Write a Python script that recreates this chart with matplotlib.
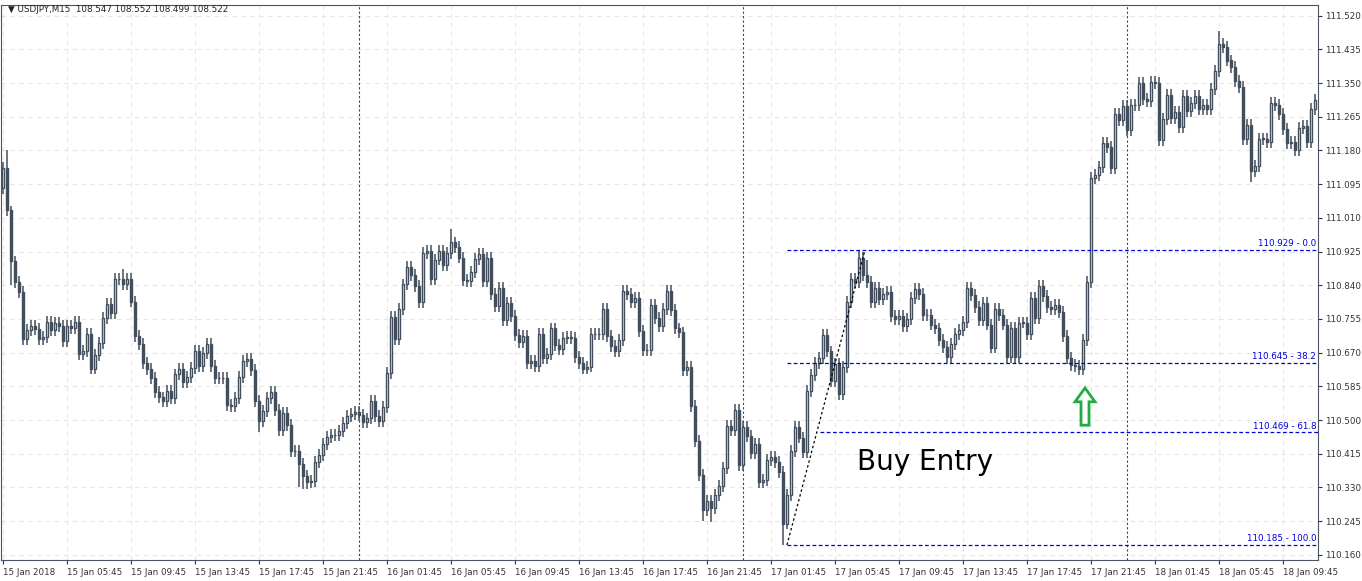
import matplotlib
matplotlib.use("Agg")
import matplotlib.pyplot as plt
from matplotlib.patches import Polygon

closes = [
111.137,111.031,110.900,110.849,110.823,110.705,110.727,110.738,110.730,110.704,
110.710,110.748,110.727,110.744,110.737,110.700,110.737,110.731,110.748,110.667,
110.674,110.718,110.630,110.663,110.695,110.757,110.793,110.769,110.856,110.856,
110.843,110.856,110.799,110.712,110.691,110.643,110.629,110.605,110.570,110.557,
110.547,110.574,110.556,110.615,110.629,110.597,110.608,110.632,110.674,110.637,
110.669,110.693,110.637,110.605,110.605,110.605,110.538,110.535,110.555,110.609,
110.650,110.653,110.627,110.549,110.498,110.523,110.555,110.570,110.525,110.476,
110.519,110.487,110.421,110.421,110.389,110.359,110.344,110.347,110.395,110.411,
110.439,110.457,110.462,110.462,110.472,110.493,110.510,110.516,110.520,110.513,
110.496,110.504,110.547,110.511,110.498,110.534,110.618,110.759,110.704,110.781,
110.842,110.887,110.865,110.838,110.798,110.922,110.927,110.855,110.905,110.927,
110.891,110.921,110.948,110.937,110.910,110.854,110.851,110.874,110.907,110.918,
110.851,110.910,110.819,110.788,110.833,110.753,110.795,110.763,110.715,110.696,
110.711,110.644,110.650,110.637,110.718,110.657,110.667,110.731,110.689,110.679,
110.706,110.709,110.708,110.660,110.644,110.630,110.635,110.716,110.716,110.718,
110.780,110.712,110.687,110.675,110.701,110.825,110.817,110.797,110.807,110.725,
110.677,110.677,110.791,110.758,110.738,110.781,110.825,110.778,110.731,110.721,
110.627,110.633,110.536,110.448,110.362,110.274,110.295,110.277,110.311,110.334,
110.378,110.484,110.475,110.525,110.387,110.483,110.460,110.418,110.439,110.344,
110.348,110.399,110.406,110.395,110.369,110.239,110.310,110.423,110.483,110.456,
110.419,110.573,110.614,110.643,110.657,110.714,110.673,110.598,110.641,110.566,
110.633,110.797,110.856,110.849,110.910,110.866,110.848,110.797,110.834,110.806,
110.819,110.823,110.763,110.756,110.763,110.738,110.756,110.808,110.831,110.818,
110.764,110.764,110.741,110.731,110.702,110.685,110.658,110.691,110.716,110.727,
110.748,110.833,110.816,110.785,110.752,110.796,110.741,110.683,110.781,110.766,
110.741,110.660,110.733,110.660,110.746,110.746,110.716,110.808,110.757,110.838,
110.813,110.785,110.779,110.791,110.773,110.713,110.656,110.639,110.637,110.629,
110.702,110.849,111.110,111.118,111.138,111.199,111.188,111.135,111.271,111.257,
111.292,111.232,111.294,111.294,111.350,111.310,111.304,111.354,111.350,111.207,
111.260,111.320,111.263,111.277,111.240,111.318,111.279,111.299,111.318,111.284,
111.295,111.285,111.334,111.381,111.449,111.441,111.407,111.390,111.355,111.340,
111.209,111.244,111.129,111.142,111.210,111.210,111.202,111.299,111.294,111.271,
111.235,111.198,111.202,111.182,111.237,111.242,111.202,111.285,111.307]
first_open = 111.086
wick = 0.015
special_high = {1: 111.182, 2: 111.040, 112: 110.983, 214: 110.929, 304: 111.482, 30: 110.880, 216: 110.905}
special_low = {74: 110.330, 75: 110.326, 76: 110.326, 175: 110.245, 177: 110.243, 195: 110.185, 312: 111.100, 2: 110.840, 64: 110.470}

xlabels = ["15 Jan 2018", "15 Jan 05:45", "15 Jan 09:45", "15 Jan 13:45", "15 Jan 17:45", "15 Jan 21:45",
           "16 Jan 01:45", "16 Jan 05:45", "16 Jan 09:45", "16 Jan 13:45", "16 Jan 17:45", "16 Jan 21:45",
           "17 Jan 01:45", "17 Jan 05:45", "17 Jan 09:45", "17 Jan 13:45", "17 Jan 17:45", "17 Jan 21:45",
           "18 Jan 01:45", "18 Jan 05:45", "18 Jan 09:45"]
yticks = [110.160, 110.245, 110.330, 110.415, 110.500, 110.585, 110.670, 110.755, 110.840,
          110.925, 111.010, 111.095, 111.180, 111.265, 111.350, 111.435, 111.520]
day_breaks = [89, 185, 281]
fib_levels = [110.929, 110.645, 110.469, 110.185]
fib_names = ["0.0", "38.2", "61.8", "100.0"]

CAND = "#434e5c"
fig = plt.figure(figsize=(13.62, 5.81), dpi=100)
ax = fig.add_axes([1/1362, 21/581, 1317/1362, 555/581])
ax.set_xlim(-0.5, 328.75)
ax.set_ylim(110.147, 111.547)

opens = [first_open] + closes[:-1]
for i, (o, c) in enumerate(zip(opens, closes)):
    hi = special_high.get(i, max(o, c) + wick)
    lo = special_low.get(i, min(o, c) - wick)
    ax.vlines(i, lo, hi, color=CAND, lw=1.1, zorder=3)
    bull = c >= o
    h = abs(c - o) or 0.0008
    ax.bar(i, h, bottom=min(o, c), width=0.7, facecolor="white" if bull else CAND,
           edgecolor=CAND, linewidth=1.0, zorder=4)

ax.set_yticks(yticks)
ax.set_yticklabels([f"{v:.3f}" for v in yticks])
ax.yaxis.tick_right()
ax.set_xticks([16 * k for k in range(len(xlabels))])
ax.set_xticklabels(xlabels, ha="left")
ax.tick_params(axis="both", labelsize=6.3, colors="#333333", length=3)
ax.tick_params(axis="y", pad=2)
ax.tick_params(axis="x", pad=3)
ax.grid(True, color="#e6e6e6", ls=(0, (4, 4)), lw=0.8)
ax.set_axisbelow(True)
for s in ax.spines.values():
    s.set_color("#4a5563")

for d in day_breaks:
    ax.axvline(d, color="#444444", ls=(0, (2, 2)), lw=0.8, zorder=2)

starts = [196, 196, 204.2, 196]
for lvl, nm, st in zip(fib_levels, fib_names, starts):
    ax.hlines(lvl, st, 328.75, colors="#0000dd", linestyles=(0, (3, 2)), lw=0.9, zorder=5)
    ax.text(328.3, lvl + 0.004, f"{lvl:.3f} - {nm}", color="#0000dd", fontsize=6.3,
            ha="right", va="bottom", zorder=6)
ax.plot([196, 215.5], [110.185, 110.929], color="black", ls=(0, (2, 2)), lw=0.9, zorder=5)

ax.text(213.5, 110.395, "Buy Entry", fontsize=20, color="black", ha="left", va="center", zorder=6)

cx, top, bot = 270.5, 110.581, 110.487
arrow = Polygon([(cx, top), (cx + 2.5, top - 0.035), (cx + 1.0, top - 0.035), (cx + 1.0, bot),
                 (cx - 1.0, bot), (cx - 1.0, top - 0.035), (cx - 2.5, top - 0.035)],
                closed=True, facecolor="white", edgecolor="#22aa44", lw=2, zorder=6)
ax.add_patch(arrow)

fig.text(8/1362, 1 - 10/581, "\u25bc USDJPY,M15  108.547 108.552 108.499 108.522", fontsize=6.3,
         color="#222222", va="center")
fig.savefig("out.png", dpi=100)
